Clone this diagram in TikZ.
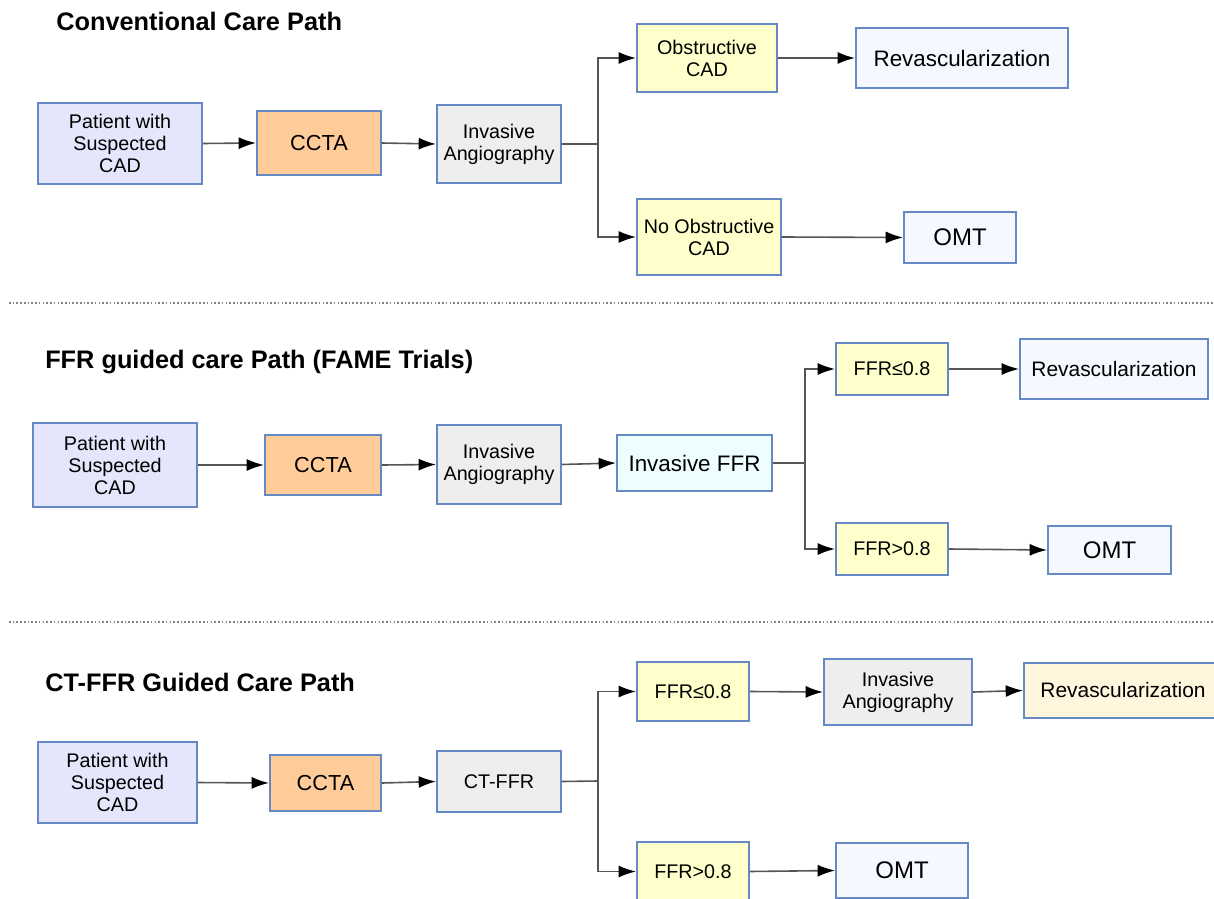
\documentclass[tikz,border=0pt]{standalone}
\usepackage{fontspec}
\setmainfont{Liberation Sans}
\usetikzlibrary{arrows.meta}

\definecolor{bordc}{RGB}{100,137,196}
\definecolor{lavfill}{RGB}{229,229,252}
\definecolor{peachfill}{RGB}{255,204,153}
\definecolor{greyfill}{RGB}{238,238,238}
\definecolor{yelfill}{RGB}{255,255,204}
\definecolor{cyanfill}{RGB}{238,253,255}
\definecolor{palefill}{RGB}{246,248,255}
\definecolor{creamfill}{RGB}{255,246,222}
\definecolor{linec}{RGB}{85,85,85}
\definecolor{sepc}{RGB}{130,130,130}

% box given by its corners (in px): name, x1, y1, x2, y2, style, text
\newcommand\flowbox[7]{%
  \node[#6, minimum width={(#4-#2)*0.75pt}, minimum height={(#5-#3)*0.75pt}]
    (#1) at ({(#2+#4)/2},{(#3+#5)/2}) {#7};}

\tikzset{
  base/.style={draw=bordc, line width=1.5pt, inner sep=0pt, align=center,
    text=black, font=\fontsize{14.8}{16.5}\selectfont},
  patient/.style={base, fill=lavfill},
  ccta/.style={base, fill=peachfill, font=\fontsize{16.3}{18}\selectfont},
  greybox/.style={base, fill=greyfill},
  yellowbox/.style={base, fill=yelfill},
  cyanbox/.style={base, fill=cyanfill, font=\fontsize{16.8}{18}\selectfont},
  pale/.style={base, fill=palefill, font=\fontsize{16.8}{18}\selectfont},
  palesm/.style={base, fill=palefill, font=\fontsize{15.7}{18}\selectfont},
  omt/.style={base, fill=palefill, font=\fontsize{18}{20}\selectfont},
  cream/.style={base, fill=creamfill, font=\fontsize{15.7}{18}\selectfont},
  title/.style={anchor=west, inner sep=0pt, font=\fontsize{19}{22}\selectfont\bfseries},
  link/.style={draw=linec, line width=1.2pt},
  arr/.style={link, -{Latex[length=13pt,width=9pt,color=black]}},
  sep/.style={draw=sepc, line width=1.1pt, dash pattern=on 1.2pt off 1.6pt}
}

\begin{document}
\begin{tikzpicture}[x=0.75pt,y=-0.75pt]
\useasboundingbox (0,0) rectangle (1214,899);

% ---------- Conventional care path ----------
\node[title] (t1) at (56,21) {Conventional Care Path};
\flowbox{p1}{38}{103}{202}{184}{patient}{Patient with\\Suspected\\CAD}
\flowbox{c1}{257}{111}{381}{175}{ccta}{CCTA}
\flowbox{i1}{437}{105}{561}{183}{greybox}{Invasive\\Angiography}
\flowbox{o1}{637}{24}{777}{92}{yellowbox}{Obstructive\\CAD}
\flowbox{r1}{856}{28}{1068}{88}{pale}{Revascularization}
\flowbox{n1}{637}{199}{781}{275}{yellowbox}{No Obstructive\\CAD}
\flowbox{m1}{904}{212}{1016}{263}{omt}{OMT}
\coordinate (j1) at (598,144);

\draw[arr] (p1.east) -- (c1.west);
\draw[arr] (c1.east) -- (i1.west);
\draw[link] (i1.east) -- (j1);
\draw[arr] (j1) |- (o1.west);
\draw[arr] (j1) |- (n1.west);
\draw[arr] (o1.east) -- (r1.west);
\draw[arr] (n1.east) -- (m1.west);

\draw[sep] (9,303) -- (1214,303);

% ---------- FFR guided care path ----------
\node[title] (t2) at (45,362) {FFR guided care Path (FAME Trials)};
\flowbox{p2}{33}{423}{197}{507}{patient}{Patient with\\Suspected\\CAD}
\flowbox{c2}{265}{435}{381}{495}{ccta}{CCTA}
\flowbox{i2}{437}{425}{561}{504}{greybox}{Invasive\\Angiography}
\flowbox{f2}{617}{435}{772}{491}{cyanbox}{Invasive FFR}
\flowbox{l2}{836}{343}{948}{395}{yellowbox}{FFR≤0.8}
\flowbox{r2}{1020}{339}{1208}{399}{palesm}{Revascularization}
\flowbox{g2}{836}{523}{948}{575}{yellowbox}{FFR>0.8}
\flowbox{m2}{1048}{526}{1171}{574}{omt}{OMT}
\coordinate (j2) at (805,463);

\draw[arr] (p2.east) -- (c2.west);
\draw[arr] (c2.east) -- (i2.west);
\draw[arr] (i2.east) -- (f2.west);
\draw[link] (f2.east) -- (j2);
\draw[arr] (j2) |- (l2.west);
\draw[arr] (j2) |- (g2.west);
\draw[arr] (l2.east) -- (r2.west);
\draw[arr] (g2.east) -- (m2.west);

\draw[sep] (9,622) -- (1214,622);

% ---------- CT-FFR guided care path ----------
\node[title] (t3) at (45,682) {CT-FFR Guided Care Path};
\flowbox{p3}{38}{742}{197}{823}{patient}{Patient with\\Suspected\\CAD}
\flowbox{c3}{270}{755}{381}{811}{ccta}{CCTA}
\flowbox{f3}{437}{751}{561}{812}{greybox}{CT-FFR}
\flowbox{l3}{637}{662}{749}{721}{yellowbox}{FFR≤0.8}
\flowbox{a3}{824}{659}{972}{725}{greybox}{Invasive\\Angiography}
\flowbox{r3}{1024}{663}{1222}{718}{cream}{Revascularization}
\flowbox{g3}{637}{842}{749}{901}{yellowbox}{FFR>0.8}
\flowbox{m3}{836}{843}{968}{898}{omt}{OMT}
\coordinate (j3) at (598,781);

\draw[arr] (p3.east) -- (c3.west);
\draw[arr] (c3.east) -- (f3.west);
\draw[link] (f3.east) -- (j3);
\draw[arr] (j3) |- (l3.west);
\draw[arr] (j3) |- (g3.west);
\draw[arr] (l3.east) -- (a3.west);
\draw[arr] (a3.east) -- (r3.west);
\draw[arr] (g3.east) -- (m3.west);
\end{tikzpicture}
\end{document}
